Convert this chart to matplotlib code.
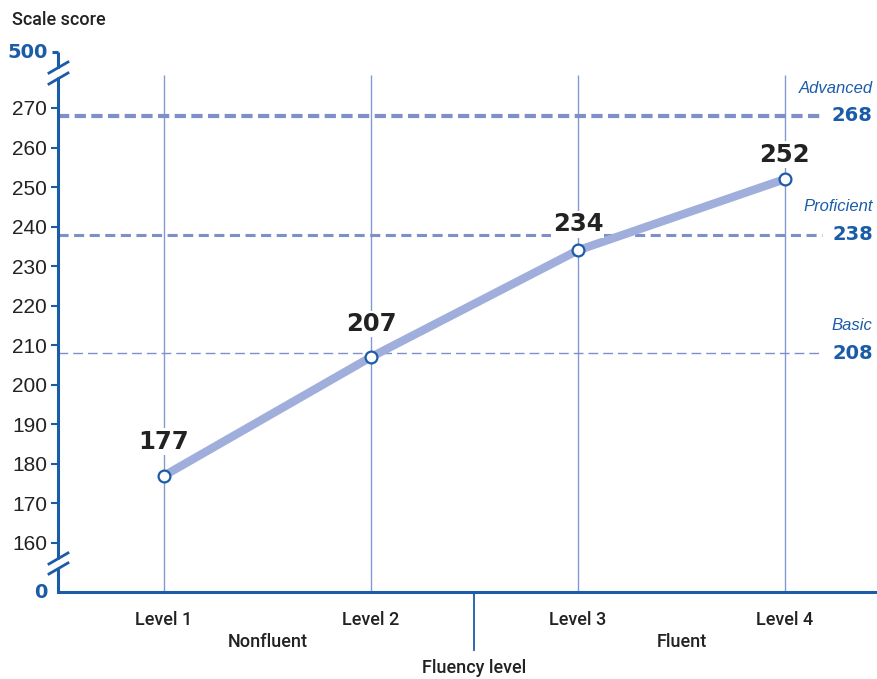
import matplotlib
matplotlib.use("Agg")
import matplotlib.pyplot as plt

# ---- data ----
levels = ["Level 1", "Level 2", "Level 3", "Level 4"]
scores = [177, 207, 234, 252]
groups = ["Nonfluent", "Fluent"]
benchmarks = [208, 238, 268]
benchmark_names = ["Basic", "Proficient", "Advanced"]
y_ticks = [160, 170, 180, 190, 200, 210, 220, 230, 240, 250, 260, 270]
axis_end_labels = ["0", "500"]

# ---- styling ----
plt.rcParams["font.family"] = ["Liberation Sans", "DejaVu Sans"]
LABEL_FONT = ["Roboto", "DejaVu Sans"]
HEAVY_FONT = ["DejaVu Sans"]

AXIS_BLUE = "#1b5ca8"
LINE_BLUE = "#a0aedb"
DASH_BLUE = "#7f8fc7"
GRID_BLUE = "#8399d2"
TEXT = "#222222"

fig = plt.figure(figsize=(8.78, 6.79), dpi=100)
ax = fig.add_axes([58 / 878, 87 / 679, 820 / 878, 540 / 679])

# y scale: 160-270 region linear, broken axis ends for 0 and 500
y_bottom, y_top = 147.6, 284.15
ax.set_ylim(y_bottom, y_top)
ax.set_xlim(-0.512, 3.45)

for s in ["left", "right", "top"]:
    ax.spines[s].set_visible(False)
ax.spines["bottom"].set_color(AXIS_BLUE)
ax.spines["bottom"].set_linewidth(2.2)

# vertical guide lines at each level
x = list(range(len(levels)))
ax.vlines(x, y_bottom, 278.3, color=GRID_BLUE, lw=1.0, zorder=1)

# benchmark dashed lines
bm_styles = [(1.0, (7, 3.6)), (2.2, (3.3, 1.8)), (3.0, (2.7, 1.3))]
for val, name, (lw, dash) in zip(benchmarks, benchmark_names, bm_styles):
    ax.plot([-0.512, 3.18], [val, val], color=DASH_BLUE, lw=lw,
            linestyle=(0, dash), zorder=1, dash_capstyle="butt")
    ax.text(3.425, val, f"{val}", color=AXIS_BLUE, fontsize=14,
            fontweight="bold", family=HEAVY_FONT, ha="right", va="center")
    ax.text(3.425, val + 7.0, name, color=AXIS_BLUE, fontsize=12,
            style="italic", ha="right", va="center")

# main line and markers
ax.plot(x, scores, color=LINE_BLUE, lw=6, solid_capstyle="butt", zorder=3)
ax.plot(x, scores, linestyle="none", marker="o", markersize=8.5,
        markerfacecolor="white", markeredgecolor=AXIS_BLUE,
        markeredgewidth=1.6, zorder=4)

label_offsets = [16, 15, 10, 9]
for xi, v, off in zip(x, scores, label_offsets):
    ax.annotate(f"{v}", (xi, v), xytext=(0, off), textcoords="offset points",
                ha="center", va="bottom", fontsize=17.5, fontweight="bold",
                family=HEAVY_FONT, color=TEXT, zorder=5,
                bbox=dict(boxstyle="square,pad=0.05", fc="white", ec="none"))

# left axis with breaks
yt = ax.get_yaxis_transform()
for lo, hi in [(y_bottom, 153.6), (156.0, 277.9), (280.0, y_top)]:
    ax.plot([0, 0], [lo, hi], color=AXIS_BLUE, lw=2.2, transform=yt,
            clip_on=False, solid_capstyle="butt")
ax.plot([-0.0075, 0], [y_top, y_top], color=AXIS_BLUE, lw=2.2, transform=yt,
        clip_on=False, solid_capstyle="butt")


def px_to_y(py):
    return 160 + (543 - py) / 3.955


def px_to_x(px):
    return (px - 164) / 207


for (y0, y1) in [(73, 62), (84, 73), (564, 553), (574, 563)]:
    ax.plot([px_to_x(49), px_to_x(68)], [px_to_y(y0), px_to_y(y1)],
            color=AXIS_BLUE, lw=2.0, clip_on=False)

ax.set_yticks(y_ticks)
ax.set_yticklabels([str(t) for t in y_ticks], fontsize=15, color=TEXT)
ax.tick_params(axis="y", length=5, width=1.5, color=AXIS_BLUE, pad=3)
ax.text(-0.0125, y_bottom, axis_end_labels[0], transform=yt, ha="right",
        va="center", fontsize=14, fontweight="bold", family=HEAVY_FONT,
        color=AXIS_BLUE)
ax.text(-0.0125, y_top, axis_end_labels[1], transform=yt, ha="right",
        va="center", fontsize=14, fontweight="bold", family=HEAVY_FONT,
        color=AXIS_BLUE)

ax.set_xticks(x)
ax.set_xticklabels(levels, fontsize=13, color=TEXT, family=LABEL_FONT,
                   fontweight="medium")
ax.tick_params(axis="x", length=0, pad=14)

# group labels and divider
xt = ax.get_xaxis_transform()
for gx, g in zip([0.5, 2.5], groups):
    ax.text(gx, -0.093, g, transform=xt, ha="center", va="center",
            fontsize=13, color=TEXT, family=LABEL_FONT, fontweight="medium")
ax.plot([1.5, 1.5], [0, -0.107], transform=xt, color=AXIS_BLUE, lw=1.3,
        clip_on=False)
ax.text(1.5, -0.141, "Fluency level", transform=xt, ha="center", va="center",
        fontsize=13, color=TEXT, family=LABEL_FONT, fontweight="medium")

fig.text(12 / 878, 1 - 20 / 679, "Scale score", ha="left", va="center",
         fontsize=13, color=TEXT, family=LABEL_FONT, fontweight="medium")

fig.savefig("out.png", dpi=100)
